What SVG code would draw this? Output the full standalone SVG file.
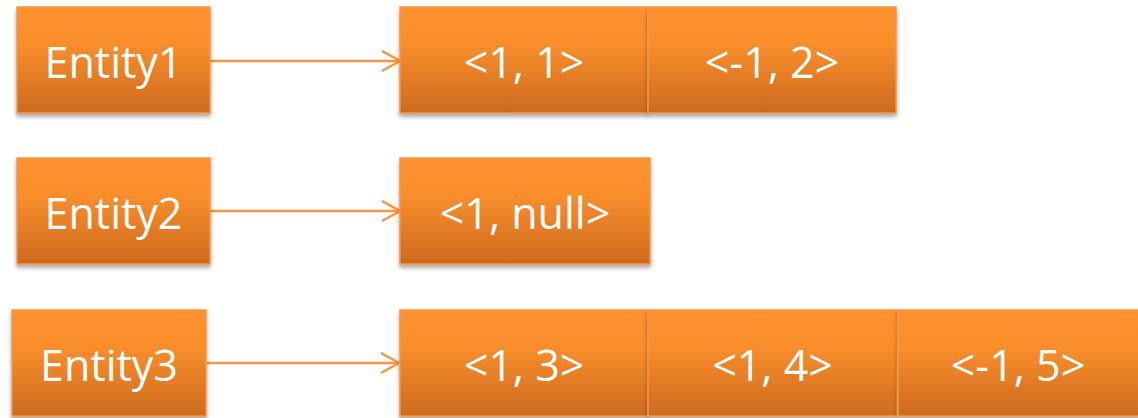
<svg xmlns="http://www.w3.org/2000/svg" width="1138" height="418" viewBox="0 0 1138 418">
<defs>
<linearGradient id="g" x1="0" y1="0" x2="0" y2="1">
<stop offset="0" stop-color="#FD912E"/>
<stop offset="0.35" stop-color="#F98E2C"/>
<stop offset="1" stop-color="#CD6A1F"/>
</linearGradient>
<filter id="sh" x="-10%" y="-10%" width="120%" height="130%">
<feGaussianBlur in="SourceAlpha" stdDeviation="2"/>
<feOffset dx="0" dy="3" result="b"/>
<feComponentTransfer><feFuncA type="linear" slope="0.35"/></feComponentTransfer>
<feMerge><feMergeNode/><feMergeNode in="SourceGraphic"/></feMerge>
</filter>
<marker id="ar" markerWidth="24" markerHeight="24" refX="20" refY="11" orient="auto" markerUnits="userSpaceOnUse">
<path d="M2,1 L20,11 L2,21" fill="none" stroke="#F79646" stroke-width="2.5"/>
</marker>
</defs>
<style>
.box{fill:url(#g);stroke:#F79646;stroke-width:1.5;filter:url(#sh)}
.t{font-family:"Open Sans","Noto Sans",sans-serif;font-size:43px;fill:#FFFFFF;text-anchor:middle;dominant-baseline:central}
.c{stroke:#F79646;stroke-width:2.5;fill:none;marker-end:url(#ar)}
</style>
<rect width="1138" height="418" fill="#FFFFFF"/>
<g id="connectors">
<line class="c" x1="211" y1="61" x2="400" y2="61"/>
<line class="c" x1="211" y1="211" x2="400" y2="211"/>
<line class="c" x1="207" y1="363" x2="399" y2="363"/>
</g>
<g id="entity1"><rect class="box" x="17" y="7" width="193" height="106"/><text class="t" x="113.5" y="61">Entity1</text></g>
<g id="e1v1"><rect class="box" x="400" y="7" width="248" height="106"/><text class="t" x="524" y="61">&lt;1, 1&gt;</text></g>
<g id="e1v2"><rect class="box" x="648" y="7" width="248" height="106"/><text class="t" x="772" y="61">&lt;-1, 2&gt;</text></g>
<g id="entity2"><rect class="box" x="17" y="158" width="193" height="106"/><text class="t" x="113.5" y="212">Entity2</text></g>
<g id="e2v1"><rect class="box" x="400" y="158" width="250" height="106"/><text class="t" x="525" y="212">&lt;1, null&gt;</text></g>
<g id="entity3"><rect class="box" x="12" y="310" width="194" height="106"/><text class="t" x="109" y="364">Entity3</text></g>
<g id="e3v1"><rect class="box" x="400" y="310" width="248" height="106"/><text class="t" x="524" y="364">&lt;1, 3&gt;</text></g>
<g id="e3v2"><rect class="box" x="648" y="310" width="249" height="106"/><text class="t" x="772.5" y="364">&lt;1, 4&gt;</text></g>
<g id="e3v3"><rect class="box" x="898" y="310" width="244" height="106"/><text class="t" x="1018" y="364">&lt;-1, 5&gt;</text></g>
</svg>
